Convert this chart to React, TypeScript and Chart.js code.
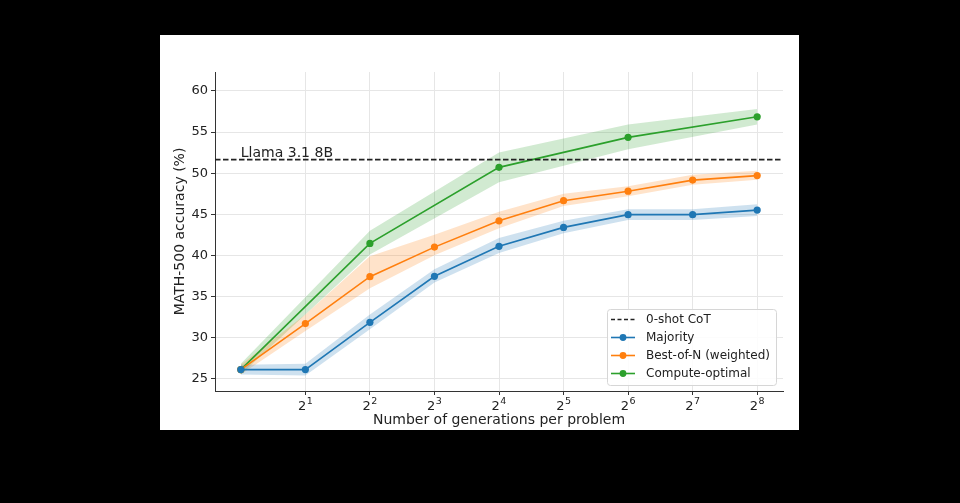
import React, { useEffect, useRef } from "react";
import { Chart, registerables } from "chart.js";

Chart.register(...registerables);

// ---- data (x = log2 of generations per problem) ----
const xLog2 = [0, 1, 2, 3, 4, 5, 6, 7, 8];
const xTickExponents = [1, 2, 3, 4, 5, 6, 7, 8];
const xTickBase = "2";
const yTicks = [25, 30, 35, 40, 45, 50, 55, 60];

const majority = [26.1, 26.1, 31.85, 37.45, 41.1, 43.4, 44.95, 44.95, 45.5];
const majorityLow = [25.5, 25.4, 31.0, 36.7, 40.3, 42.7, 44.3, 44.3, 44.8];
const majorityHigh = [26.7, 26.8, 32.8, 38.3, 42.1, 44.2, 45.6, 45.6, 46.2];

const bestOfN = [26.1, 31.7, 37.4, 41.0, 44.2, 46.65, 47.8, 49.15, 49.7];
const bestOfNLow = [25.5, 30.8, 36.0, 40.0, 43.3, 46.0, 47.2, 48.6, 49.2];
const bestOfNHigh = [26.7, 32.8, 39.9, 42.5, 45.3, 47.5, 48.4, 49.8, 50.3];

const computeX = [0, 2, 4, 6, 8];
const computeOptimal = [26.1, 41.45, 50.7, 54.35, 56.85];
const computeLow = [25.5, 40.1, 48.9, 52.9, 55.9];
const computeHigh = [26.8, 43.0, 52.5, 55.9, 57.8];

const zeroShotCoT = 51.65;
const zeroShotLabel = "Llama 3.1 8B";

const seriesNames = ["0-shot CoT", "Majority", "Best-of-N (weighted)", "Compute-optimal"];
const BLUE = "#1f77b4";
const ORANGE = "#ff7f0e";
const GREEN = "#2ca02c";

const pts = (xs: number[], ys: number[]) => xs.map((x, i) => ({ x, y: ys[i] }));

const FONT = "'DejaVu Sans', sans-serif";

const overlayPlugin = {
  id: "overlay",
  afterDatasetsDraw(chart: any) {
    const { ctx, chartArea, scales } = chart;
    const xs = scales.x;
    const ys = scales.y;
    ctx.save();
    // Llama label above dashed line
    ctx.fillStyle = "#222";
    ctx.font = `14px ${FONT}`;
    ctx.textAlign = "left";
    ctx.textBaseline = "alphabetic";
    ctx.fillText(zeroShotLabel, xs.getPixelForValue(0), ys.getPixelForValue(zeroShotCoT) - 3);

    // x tick labels as 2^n (base + raised exponent)
    const baseFont = `13px ${FONT}`;
    const expFont = `9.5px ${FONT}`;
    for (const e of xTickExponents) {
      const px = xs.getPixelForValue(e);
      ctx.font = baseFont;
      const bw = ctx.measureText(xTickBase).width;
      ctx.font = expFont;
      const ew = ctx.measureText(String(e)).width;
      const left = px - (bw + ew + 0.5) / 2;
      ctx.textAlign = "left";
      ctx.textBaseline = "alphabetic";
      ctx.font = baseFont;
      ctx.fillText(xTickBase, left, chartArea.bottom + 19);
      ctx.font = expFont;
      ctx.fillText(String(e), left + bw + 0.5, chartArea.bottom + 13);
    }

    // legend
    const w = 169;
    const h = 76;
    const x0 = chartArea.right - 7 - w;
    const y0 = chartArea.bottom - 6 - h;
    ctx.beginPath();
    (ctx as any).roundRect(x0 + 0.5, y0 + 0.5, w, h, 3);
    ctx.fillStyle = "rgba(255,255,255,0.85)";
    ctx.fill();
    ctx.strokeStyle = "#d6d6d6";
    ctx.lineWidth = 1;
    ctx.stroke();
    const colors = ["#222", BLUE, ORANGE, GREEN];
    ctx.font = `12px ${FONT}`;
    ctx.textBaseline = "middle";
    for (let i = 0; i < seriesNames.length; i++) {
      const cy = y0 + 10.5 + i * 18;
      const lx0 = x0 + 4;
      const lx1 = x0 + 28;
      ctx.beginPath();
      ctx.strokeStyle = colors[i];
      ctx.lineWidth = 1.6;
      ctx.setLineDash(i === 0 ? [4, 2.5] : []);
      ctx.moveTo(lx0, cy);
      ctx.lineTo(lx1, cy);
      ctx.stroke();
      ctx.setLineDash([]);
      if (i > 0) {
        ctx.beginPath();
        ctx.fillStyle = colors[i];
        ctx.arc((lx0 + lx1) / 2, cy, 3.4, 0, Math.PI * 2);
        ctx.fill();
      }
      ctx.fillStyle = "#222";
      ctx.fillText(seriesNames[i], x0 + 39, cy + 0.5);
    }
    ctx.restore();
  },
};

function lineDs(label: string, data: any[], color: string) {
  return {
    label,
    data,
    borderColor: color,
    backgroundColor: color,
    borderWidth: 1.6,
    pointRadius: 3.6,
    pointHoverRadius: 3.6,
    pointBorderWidth: 0,
    fill: false,
    order: 0,
  };
}

function bandDs(label: string, data: any[], color: string, fill: any) {
  return {
    label,
    data,
    borderColor: "rgba(0,0,0,0)",
    borderWidth: 0,
    pointRadius: 0,
    backgroundColor: color,
    fill,
    order: 2,
  };
}

export default function App() {
  const ref = useRef<HTMLCanvasElement | null>(null);
  useEffect(() => {
    if (!ref.current) return;
    const chart = new Chart(ref.current, {
      type: "line",
      data: {
        datasets: [
          {
            label: seriesNames[0],
            data: [{ x: -0.4, y: zeroShotCoT }, { x: 8.4, y: zeroShotCoT }],
            borderColor: "#222",
            borderWidth: 1.7,
            borderDash: [5.5, 2.5],
            pointRadius: 0,
            fill: false,
            order: 0,
          },
          lineDs(seriesNames[1], pts(xLog2, majority), BLUE),
          lineDs(seriesNames[2], pts(xLog2, bestOfN), ORANGE),
          lineDs(seriesNames[3], pts(computeX, computeOptimal), GREEN),
          bandDs("mh", pts(xLog2, majorityHigh), "rgba(31,119,180,0.22)", "+1"),
          bandDs("ml", pts(xLog2, majorityLow), "rgba(31,119,180,0.22)", false),
          bandDs("bh", pts(xLog2, bestOfNHigh), "rgba(255,127,14,0.22)", "+1"),
          bandDs("bl", pts(xLog2, bestOfNLow), "rgba(255,127,14,0.22)", false),
          bandDs("ch", pts(computeX, computeHigh), "rgba(44,160,44,0.22)", "+1"),
          bandDs("cl", pts(computeX, computeLow), "rgba(44,160,44,0.22)", false),
        ] as any,
      },
      options: {
        animation: false,
        responsive: false,
        maintainAspectRatio: false,
        events: [],
        layout: { padding: { top: 37, right: 16, left: 0, bottom: 0 } },
        plugins: {
          legend: { display: false },
          tooltip: { enabled: false },
          title: { display: false },
        },
        scales: {
          x: {
            type: "linear",
            min: -0.4,
            max: 8.4,
            afterBuildTicks: (s: any) => {
              s.ticks = xTickExponents.map((v) => ({ value: v }));
            },
            afterFit: (s: any) => {
              s.height = 39;
            },
            ticks: { display: false },
            grid: { color: "#e6e6e6", lineWidth: 1, tickColor: "#333", tickLength: 4 },
            border: { color: "#333", width: 1 },
            title: {
              display: true,
              text: "Number of generations per problem",
              color: "#222",
              font: { size: 14, family: FONT },
              padding: { top: 0, bottom: 1 },
            },
          },
          y: {
            type: "linear",
            min: 23.5,
            max: 62.3,
            afterBuildTicks: (s: any) => {
              s.ticks = yTicks.map((v) => ({ value: v }));
            },
            afterFit: (s: any) => {
              s.width = 55;
            },
            ticks: {
              padding: 3,
              color: "#222",
              font: { size: 13, family: FONT },
            },
            grid: { color: "#e6e6e6", lineWidth: 1, tickColor: "#333", tickLength: 4 },
            border: { color: "#333", width: 1 },
            title: {
              display: true,
              text: "MATH-500 accuracy (%)",
              color: "#222",
              font: { size: 14, family: FONT },
              padding: { top: 12, bottom: 0 },
            },
          },
        },
      },
      plugins: [overlayPlugin],
    });
    return () => chart.destroy();
  }, []);

  return (
    <div style={{ position: "fixed", left: 0, top: 0, width: 960, height: 503, background: "#000" }}>
      <div style={{ position: "absolute", left: 160, top: 35, width: 639, height: 395, background: "#fff" }}>
        <canvas ref={ref} width={639} height={395} style={{ display: "block", width: 639, height: 395 }} />
      </div>
    </div>
  );
}
